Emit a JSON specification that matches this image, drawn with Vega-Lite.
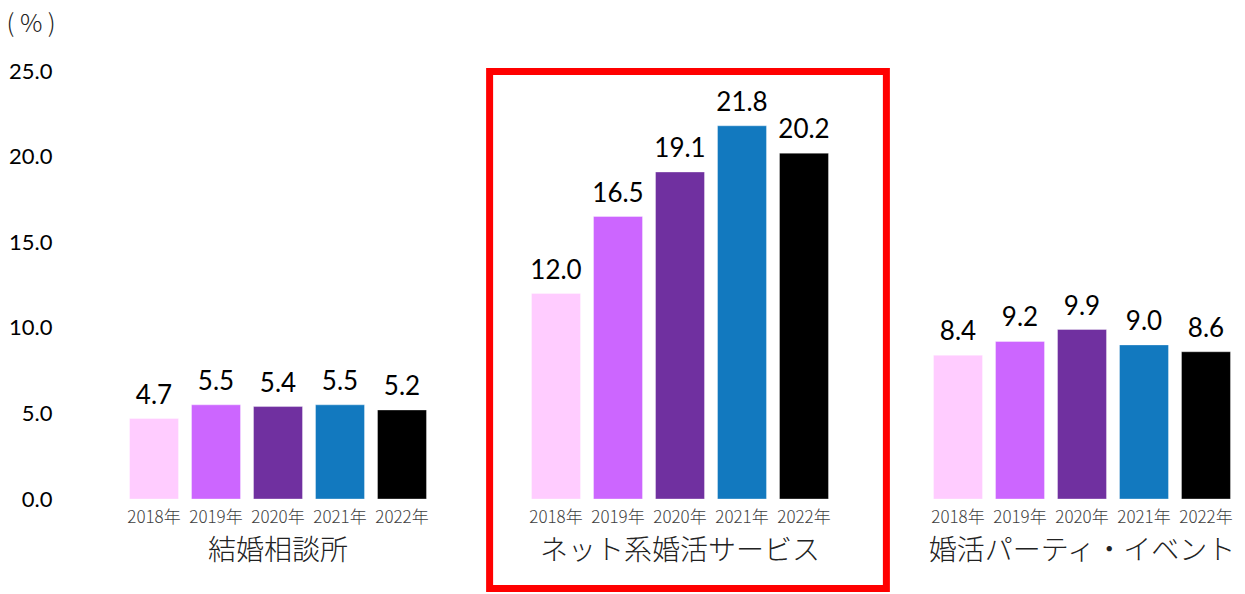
{
  "$schema": "https://vega.github.io/schema/vega-lite/v6.json",
  "autosize": "none",
  "width": 1120,
  "height": 428,
  "padding": {"left": 120, "top": 71, "right": 5, "bottom": 95},
  "background": "white",
  "config": {"view": {"stroke": null}},
  "datasets": {
    "bars": [
      {"group": "結婚相談所", "year": "2018年", "value": 4.7},
      {"group": "結婚相談所", "year": "2019年", "value": 5.5},
      {"group": "結婚相談所", "year": "2020年", "value": 5.4},
      {"group": "結婚相談所", "year": "2021年", "value": 5.5},
      {"group": "結婚相談所", "year": "2022年", "value": 5.2},
      {"group": "ネット系婚活サービス", "year": "2018年", "value": 12.0},
      {"group": "ネット系婚活サービス", "year": "2019年", "value": 16.5},
      {"group": "ネット系婚活サービス", "year": "2020年", "value": 19.1},
      {"group": "ネット系婚活サービス", "year": "2021年", "value": 21.8},
      {"group": "ネット系婚活サービス", "year": "2022年", "value": 20.2},
      {"group": "婚活パーティ・イベント", "year": "2018年", "value": 8.4},
      {"group": "婚活パーティ・イベント", "year": "2019年", "value": 9.2},
      {"group": "婚活パーティ・イベント", "year": "2020年", "value": 9.9},
      {"group": "婚活パーティ・イベント", "year": "2021年", "value": 9.0},
      {"group": "婚活パーティ・イベント", "year": "2022年", "value": 8.6}
    ],
    "highlight": [
      {"group": "ネット系婚活サービス", "top": 24.97, "bottom": -5.23}
    ]
  },
  "layer": [
    {
      "data": {"name": "bars"},
      "mark": {"type": "bar", "stroke": "#ffffff", "strokeOpacity": 0.35, "strokeWidth": 1},
      "encoding": {
        "x": {
          "field": "group", "type": "nominal", "sort": null,
          "scale": {"domain": ["結婚相談所", "ネット系婚活サービス", "婚活パーティ・イベント"], "paddingInner": 0.2289, "paddingOuter": 0.0075},
          "axis": {"title": null, "domain": false, "ticks": false, "tickSize": 0, "labelAngle": 0, "labelLimit": 0, "labelPadding": 38, "labelBaseline": "top", "labelFont": "Noto Sans CJK JP", "labelFontWeight": 300, "labelFontSize": 28, "labelColor": "#222222"}
        },
        "xOffset": {
          "field": "year", "type": "nominal", "sort": null,
          "scale": {"paddingInner": 0.21, "paddingOuter": 0.105}
        },
        "y": {
          "field": "value", "type": "quantitative",
          "scale": {"domain": [0, 25], "nice": false, "zero": true},
          "axis": {
            "values": [0, 5, 10, 15, 20, 25], "format": ".1f", "grid": false, "domain": false, "ticks": false, "tickSize": 0,
            "offset": 60, "labelPadding": 8, "labelFont": "Lato", "labelFontSize": 22, "labelColor": "#000000",
            "title": "( % )", "titleAngle": 0, "titleAlign": "left", "titleBaseline": "middle", "titleX": -54, "titleY": -48,
            "titleFont": "Noto Sans CJK JP", "titleFontSize": 25, "titleFontWeight": 300, "titleColor": "#222222"
          }
        },
        "color": {
          "field": "year", "type": "nominal", "legend": null,
          "scale": {"domain": ["2018年", "2019年", "2020年", "2021年", "2022年"], "range": ["#FFCCFF", "#CC66FF", "#7030A0", "#1279BF", "#000000"]}
        }
      }
    },
    {
      "data": {"name": "bars"},
      "mark": {"type": "text", "baseline": "alphabetic", "dy": -15, "font": "Lato", "fontSize": 26, "color": "#000000"},
      "encoding": {
        "x": {"field": "group", "type": "nominal", "sort": null},
        "xOffset": {"field": "year", "type": "nominal", "sort": null},
        "y": {"field": "value", "type": "quantitative"},
        "text": {"field": "value", "type": "quantitative", "format": ".1f"}
      }
    },
    {
      "data": {"name": "bars"},
      "mark": {"type": "text", "baseline": "middle", "dy": 19, "font": "Noto Sans CJK JP", "fontSize": 17, "fontWeight": 300, "color": "#404040"},
      "encoding": {
        "x": {"field": "group", "type": "nominal", "sort": null},
        "xOffset": {"field": "year", "type": "nominal", "sort": null},
        "y": {"datum": 0, "type": "quantitative"},
        "text": {"field": "year", "type": "nominal"}
      }
    },
    {
      "data": {"name": "highlight"},
      "mark": {"type": "bar", "fill": null, "fillOpacity": 0, "stroke": "#FF0000", "strokeWidth": 7, "width": {"band": 1.28}, "xOffset": 8},
      "encoding": {
        "x": {"field": "group", "type": "nominal", "sort": null},
        "y": {"field": "top", "type": "quantitative"},
        "y2": {"field": "bottom"}
      }
    }
  ]
}
